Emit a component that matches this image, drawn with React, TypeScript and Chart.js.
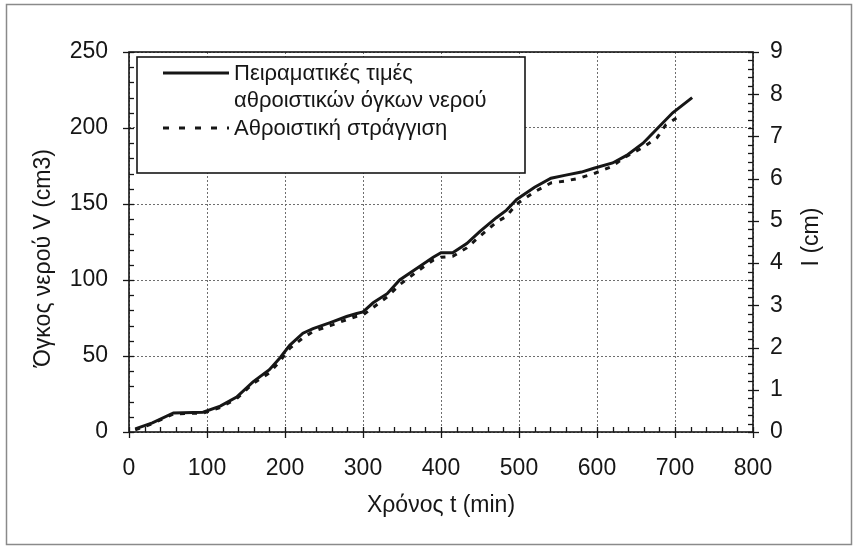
import React, { useEffect, useRef } from "react";
import { Chart, registerables } from "chart.js";

Chart.register(...registerables);

// ---- data ----
const timeMeasured = [8, 30, 57, 95, 117, 138, 159, 180, 194, 206, 223, 236, 258, 279, 292, 300, 313, 331, 347, 373, 390, 400, 415, 433, 450, 471, 484, 497, 520, 541, 560, 580, 596, 620, 638, 659, 678, 697, 722];
const volumeMeasured = [2, 6, 12.5, 13, 17, 23, 33, 41, 49, 57, 65, 68, 72, 76, 78, 79, 85, 91, 100, 109, 115, 118, 118, 124, 132, 141, 146, 153, 161, 167, 169, 171, 173.5, 177, 182, 190, 200, 210, 220];

const timeDrainage = [8, 30, 57, 95, 117, 138, 159, 180, 194, 206, 223, 236, 258, 279, 292, 300, 313, 331, 347, 373, 390, 400, 415, 433, 450, 471, 484, 497, 520, 541, 558, 577, 596, 618, 637, 658, 677, 688, 709];
const drainageCm = [0.05, 0.2, 0.43, 0.45, 0.58, 0.79, 1.15, 1.4, 1.69, 1.98, 2.23, 2.38, 2.52, 2.66, 2.74, 2.77, 2.95, 3.2, 3.49, 3.85, 4.07, 4.14, 4.16, 4.36, 4.64, 4.97, 5.11, 5.4, 5.69, 5.9, 5.94, 6.01, 6.12, 6.28, 6.52, 6.73, 6.97, 7.27, 7.52];

const seriesNames = ["Πειραματικές τιμές", "αθροιστικών όγκων νερού", "Αθροιστική στράγγιση"];
const xTitle = "Χρόνος t (min)";
const yTitle = "Όγκος νερού V (cm3)";
const y2Title = "I (cm)";

const X_MIN = 0, X_MAX = 800, X_STEP = 100, X_MINOR = 20;
const Y_MIN = 0, Y_MAX = 250, Y_STEP = 50, Y_MINOR = 10;
const Y2_MIN = 0, Y2_MAX = 9, Y2_STEP = 1, Y2_MINOR_DIV = 5;

const FONT = "'Liberation Sans', Arial, sans-serif";
const INK = "#161616";

const decorPlugin = {
  id: "decor",
  beforeDraw(chart: any) {
    const { ctx, width, height } = chart;
    ctx.save();
    ctx.fillStyle = "#ffffff";
    ctx.fillRect(0, 0, width, height);
    ctx.restore();
  },
  afterDraw(chart: any) {
    const { ctx, chartArea: a, scales } = chart;
    const xs = scales.x, ys = scales.y, y2s = scales.y2;
    ctx.save();
    ctx.strokeStyle = INK;
    ctx.lineWidth = 1.6;
    ctx.setLineDash([]);
    ctx.strokeRect(a.left, a.top, a.right - a.left, a.bottom - a.top);

    const seg = (x1: number, y1: number, x2: number, y2: number) => {
      ctx.beginPath();
      ctx.moveTo(x1, y1);
      ctx.lineTo(x2, y2);
      ctx.stroke();
    };
    ctx.lineWidth = 1.3;
    // x ticks
    const nx = Math.round((X_MAX - X_MIN) / X_MINOR);
    for (let i = 0; i <= nx; i++) {
      const v = X_MIN + i * X_MINOR;
      const px = Math.round(xs.getPixelForValue(v)) + 0.5;
      const major = v % X_STEP === 0;
      seg(px, a.bottom - 5, px, a.bottom + (major ? 6 : 0));
    }
    // left ticks
    const ny = Math.round((Y_MAX - Y_MIN) / Y_MINOR);
    for (let i = 0; i <= ny; i++) {
      const v = Y_MIN + i * Y_MINOR;
      const py = Math.round(ys.getPixelForValue(v)) + 0.5;
      const major = v % Y_STEP === 0;
      seg(a.left - (major ? 6 : 0), py, a.left + 5, py);
    }
    // right ticks
    const ny2 = Math.round((Y2_MAX - Y2_MIN) * Y2_MINOR_DIV);
    for (let i = 0; i <= ny2; i++) {
      const v = Y2_MIN + i / Y2_MINOR_DIV;
      const py = Math.round(y2s.getPixelForValue(v)) + 0.5;
      const major = i % Y2_MINOR_DIV === 0;
      seg(a.right - 5, py, a.right + (major ? 6 : 0), py);
    }

    // legend box
    const lx = a.left + 8, ly = a.top + 5, lw = 388, lh = 116;
    ctx.fillStyle = "#ffffff";
    ctx.fillRect(lx, ly, lw, lh);
    ctx.lineWidth = 1.6;
    ctx.strokeStyle = INK;
    ctx.strokeRect(lx, ly, lw, lh);
    ctx.font = `22px ${FONT}`;
    ctx.fillStyle = INK;
    ctx.textAlign = "left";
    ctx.textBaseline = "alphabetic";
    const tx = lx + 97;
    ctx.fillText(seriesNames[0], tx, ly + 23);
    ctx.fillText(seriesNames[1], tx, ly + 50);
    ctx.fillText(seriesNames[2], tx, ly + 78);
    ctx.lineWidth = 3;
    seg(lx + 26, ly + 16, lx + 92, ly + 16);
    ctx.setLineDash([6, 10]);
    seg(lx + 26, ly + 71, lx + 92, ly + 71);
    ctx.setLineDash([]);

    // vertical titles
    ctx.font = `23px ${FONT}`;
    ctx.textAlign = "center";
    ctx.textBaseline = "middle";
    ctx.save();
    ctx.translate(44, 258);
    ctx.rotate(-Math.PI / 2);
    ctx.fillText(yTitle, 0, 0);
    ctx.restore();
    ctx.save();
    ctx.translate(812, 237);
    ctx.rotate(-Math.PI / 2);
    ctx.fillText(y2Title, 0, 0);
    ctx.restore();

    // outer frame
    ctx.strokeStyle = "#8a8a8a";
    ctx.lineWidth = 1.5;
    ctx.strokeRect(6.5, 4.5, 845, 540);
    ctx.restore();
  },
};

export default function App() {
  const ref = useRef<HTMLCanvasElement | null>(null);
  useEffect(() => {
    document.body.style.margin = "0";
    const canvas = ref.current;
    if (!canvas) return;
    const measured = timeMeasured.map((t, i) => ({ x: t, y: volumeMeasured[i] }));
    const drainage = timeDrainage.map((t, i) => ({ x: t, y: drainageCm[i] }));
    const tickFont = { family: FONT, size: 23 };
    const chart = new Chart(canvas, {
      type: "line",
      data: {
        datasets: [
          {
            label: seriesNames[0] + " " + seriesNames[1],
            data: measured,
            borderColor: INK,
            borderWidth: 3,
            pointRadius: 0,
            tension: 0,
            yAxisID: "y",
            order: 1,
          },
          {
            label: seriesNames[2],
            data: drainage,
            borderColor: INK,
            borderWidth: 3,
            borderDash: [5, 7],
            pointRadius: 0,
            tension: 0,
            yAxisID: "y2",
            order: 2,
          },
        ],
      },
      options: {
        animation: false,
        responsive: false,
        maintainAspectRatio: false,
        layout: { padding: { top: 52, left: 0, right: 0, bottom: 0 } },
        plugins: { legend: { display: false }, tooltip: { enabled: false } },
        scales: {
          x: {
            type: "linear",
            min: X_MIN,
            max: X_MAX,
            ticks: { stepSize: X_STEP, font: tickFont, color: INK, padding: 23, maxRotation: 0 },
            grid: { color: "#6e6e6e", lineWidth: 1, drawTicks: false },
            border: { display: false, dash: [2, 2] },
            title: { display: true, text: xTitle, font: { family: FONT, size: 23 }, color: INK, padding: { top: 0, bottom: 27 } },
            afterFit: (s: any) => { s.height = 114; },
          },
          y: {
            type: "linear",
            position: "left",
            min: Y_MIN,
            max: Y_MAX,
            ticks: { stepSize: Y_STEP, font: tickFont, color: INK, padding: 21 },
            grid: { color: "#6e6e6e", lineWidth: 1, drawTicks: false },
            border: { display: false, dash: [2, 2] },
            afterFit: (s: any) => { s.width = 129; },
          },
          y2: {
            type: "linear",
            position: "right",
            min: Y2_MIN,
            max: Y2_MAX,
            ticks: { stepSize: Y2_STEP, font: tickFont, color: INK, padding: 17 },
            grid: { drawOnChartArea: false, drawTicks: false },
            border: { display: false },
            afterFit: (s: any) => { s.width = 101; },
          },
        },
      },
      plugins: [decorPlugin],
    } as any);
    return () => chart.destroy();
  }, []);
  return (
    <div style={{ width: 854, height: 546 }}>
      <canvas ref={ref} width={854} height={546} style={{ display: "block" }} />
    </div>
  );
}
